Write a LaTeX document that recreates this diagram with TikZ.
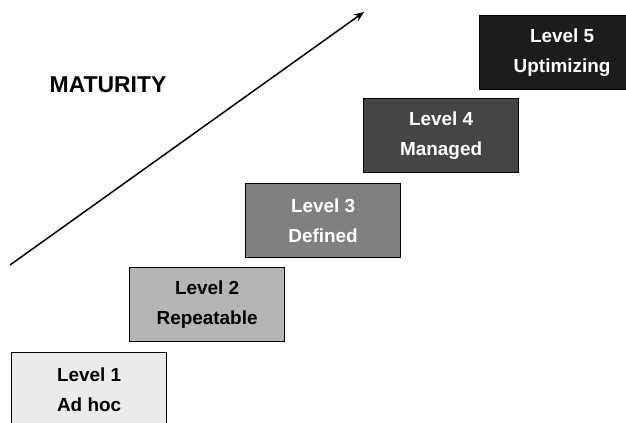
\documentclass[tikz,border=0pt]{standalone}
\usepackage{fontspec}
\setmainfont{Liberation Sans}
\usetikzlibrary{arrows.meta}
\definecolor{lvA}{HTML}{EBEBEB}
\definecolor{lvB}{HTML}{B5B5B5}
\definecolor{lvC}{HTML}{808080}
\definecolor{lvD}{HTML}{454545}
\definecolor{lvE}{HTML}{1C1C1C}
\tikzset{
  lvbox/.style={draw=black, line width=1.2bp, rectangle, anchor=north west,
    minimum width=155bp, minimum height=74bp, inner sep=0pt, align=center,
    font=\bfseries\fontsize{19}{30}\selectfont},
  lvdark/.style={lvbox, text=white},
  matlabel/.style={font=\bfseries\fontsize{23}{25}\selectfont}
}
\begin{document}
\begin{tikzpicture}[x=1bp,y=-1bp]
\useasboundingbox (0,0) rectangle (626,422);
\clip (0,0) rectangle (626,422);
\fill[white] (0,0) rectangle (626,422);
\node[lvbox, fill=lvA] (l1) at (11,352) {Level 1\\Ad hoc};
\node[lvbox, fill=lvB] (l2) at (129,267) {Level 2\\Repeatable};
\node[lvdark, fill=lvC] (l3) at (245,183) {Level 3\\Defined};
\node[lvdark, fill=lvD] (l4) at (363,98) {Level 4\\Managed};
\node[lvdark, fill=lvE, minimum width=165bp] (l5) at (479,15) {Level 5\\Uptimizing};
\node[matlabel] (mat) at (108,85) {MATURITY};
\coordinate (as) at (10,265);
\coordinate (ae) at (364,12);
\draw[line width=1.5bp, -{Stealth[length=10bp,width=8bp]}] (as) -- (ae);
\end{tikzpicture}
\end{document}
